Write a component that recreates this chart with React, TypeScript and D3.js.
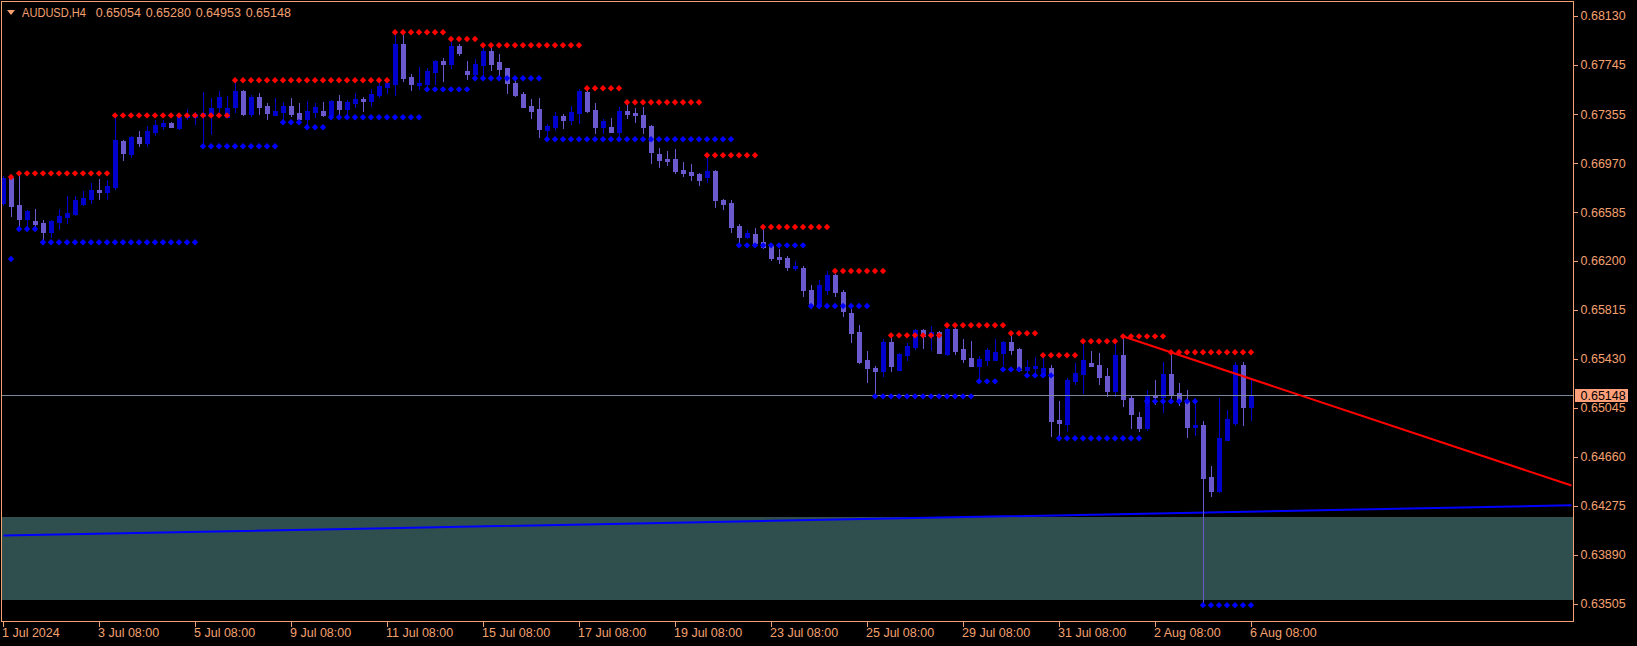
import React, { useEffect, useRef } from 'react';
import * as d3 from 'd3';

const symbol = 'AUDUSD,H4';

// H4 candles, 1 Jul 2024 .. 6 Aug 2024
const opens = [
  0.66653, 0.66852, 0.66640, 0.66530, 0.66516, 0.66498, 0.66430, 0.66508, 0.66545, 0.66571,
  0.66650, 0.66687, 0.66758, 0.66742, 0.66782, 0.67143, 0.67044, 0.67175, 0.67130, 0.67217,
  0.67264, 0.67285, 0.67248, 0.67330, 0.67335, 0.67338, 0.67354, 0.67413, 0.67335, 0.67413,
  0.67537, 0.67356, 0.67490, 0.67419, 0.67348, 0.67372, 0.67419, 0.67364, 0.67317, 0.67372,
  0.67380, 0.67348, 0.67458, 0.67395, 0.67442, 0.67474, 0.67458, 0.67505, 0.67568, 0.67592,
  0.67907, 0.67647, 0.67582, 0.67592, 0.67686, 0.67773, 0.67749, 0.67891, 0.67694, 0.67671,
  0.67741, 0.67852, 0.67765, 0.67718, 0.67600, 0.67513, 0.67419, 0.67395, 0.67230, 0.67254,
  0.67340, 0.67309, 0.67364, 0.67529, 0.67387, 0.67254, 0.67254, 0.67214, 0.67380, 0.67364,
  0.67348, 0.67262, 0.67041, 0.67002, 0.67002, 0.66915, 0.66899, 0.66884, 0.66860, 0.66907,
  0.66679, 0.66656, 0.66475, 0.66388, 0.66412, 0.66349, 0.66318, 0.66231, 0.66223, 0.66144,
  0.66144, 0.65972, 0.65846, 0.65972, 0.66090, 0.65956, 0.65790, 0.65641, 0.65421, 0.65358,
  0.65334, 0.65562, 0.65342, 0.65460, 0.65523, 0.65657, 0.65610, 0.65641, 0.65468, 0.65665,
  0.65507, 0.65437, 0.65374, 0.65421, 0.65421, 0.65476, 0.65562, 0.65507, 0.65342, 0.65358,
  0.65303, 0.65358, 0.64949, 0.64918, 0.65256, 0.65311, 0.65397, 0.65382, 0.65295, 0.65177,
  0.65460, 0.65122, 0.64973, 0.64886, 0.65138, 0.65130, 0.65311, 0.65161, 0.65091, 0.64894,
  0.64910, 0.64500, 0.64390, 0.64792, 0.64925, 0.65382, 0.65054
];

const highs = [
  0.66868, 0.66868, 0.66889, 0.66601, 0.66609, 0.66522, 0.66522, 0.66609, 0.66711, 0.66711,
  0.66752, 0.66813, 0.66844, 0.66837, 0.67332, 0.67151, 0.67185, 0.67222, 0.67262, 0.67309,
  0.67309, 0.67293, 0.67364, 0.67395, 0.67372, 0.67529, 0.67482, 0.67537, 0.67498, 0.67621,
  0.67545, 0.67505, 0.67521, 0.67442, 0.67482, 0.67450, 0.67482, 0.67442, 0.67458, 0.67442,
  0.67450, 0.67466, 0.67505, 0.67466, 0.67521, 0.67490, 0.67553, 0.67623, 0.67623, 0.67993,
  0.67993, 0.67670, 0.67726, 0.67718, 0.67781, 0.67796, 0.67938, 0.67907, 0.67773, 0.67789,
  0.67875, 0.67899, 0.67828, 0.67718, 0.67639, 0.67529, 0.67474, 0.67482, 0.67277, 0.67372,
  0.67356, 0.67419, 0.67553, 0.67553, 0.67442, 0.67317, 0.67325, 0.67411, 0.67442, 0.67403,
  0.67411, 0.67269, 0.67088, 0.67065, 0.67080, 0.66978, 0.66962, 0.66892, 0.67033, 0.66915,
  0.66687, 0.66679, 0.66491, 0.66443, 0.66459, 0.66459, 0.66341, 0.66294, 0.66239, 0.66199,
  0.66160, 0.66011, 0.66050, 0.66121, 0.66097, 0.65972, 0.65822, 0.65696, 0.65492, 0.65374,
  0.65586, 0.65617, 0.65476, 0.65555, 0.65665, 0.65665, 0.65688, 0.65649, 0.65704, 0.65673,
  0.65586, 0.65570, 0.65452, 0.65515, 0.65586, 0.65570, 0.65633, 0.65515, 0.65421, 0.65445,
  0.65445, 0.65382, 0.65098, 0.65279, 0.65397, 0.65562, 0.65492, 0.65476, 0.65358, 0.65547,
  0.65602, 0.65138, 0.65012, 0.65185, 0.65264, 0.65405, 0.65476, 0.65240, 0.65185, 0.65122,
  0.64941, 0.64587, 0.65122, 0.65028, 0.65405, 0.65405, 0.65280
];

const lows = [
  0.66640, 0.66554, 0.66443, 0.66475, 0.66470, 0.66334, 0.66388, 0.66451, 0.66501, 0.66561,
  0.66640, 0.66656, 0.66687, 0.66687, 0.66766, 0.66994, 0.67020, 0.67104, 0.67104, 0.67191,
  0.67240, 0.67254, 0.67238, 0.67316, 0.67277, 0.67104, 0.67198, 0.67364, 0.67332, 0.67374,
  0.67348, 0.67343, 0.67356, 0.67316, 0.67348, 0.67309, 0.67340, 0.67285, 0.67256, 0.67335,
  0.67340, 0.67335, 0.67335, 0.67340, 0.67411, 0.67380, 0.67419, 0.67490, 0.67521, 0.67505,
  0.67615, 0.67545, 0.67553, 0.67576, 0.67592, 0.67615, 0.67718, 0.67820, 0.67631, 0.67639,
  0.67663, 0.67702, 0.67663, 0.67521, 0.67497, 0.67411, 0.67324, 0.67175, 0.67175, 0.67230,
  0.67246, 0.67277, 0.67285, 0.67372, 0.67207, 0.67207, 0.67214, 0.67175, 0.67324, 0.67293,
  0.67207, 0.66970, 0.66939, 0.66954, 0.66892, 0.66868, 0.66837, 0.66797, 0.66821, 0.66624,
  0.66609, 0.66428, 0.66318, 0.66380, 0.66318, 0.66302, 0.66207, 0.66184, 0.66129, 0.66129,
  0.65924, 0.65830, 0.65830, 0.65940, 0.65924, 0.65767, 0.65562, 0.65397, 0.65248, 0.65130,
  0.65295, 0.65334, 0.65342, 0.65421, 0.65507, 0.65515, 0.65500, 0.65476, 0.65460, 0.65468,
  0.65405, 0.65374, 0.65248, 0.65382, 0.65421, 0.65382, 0.65468, 0.65334, 0.65303, 0.65311,
  0.65295, 0.64823, 0.64792, 0.64862, 0.65232, 0.65161, 0.65374, 0.65232, 0.65138, 0.65138,
  0.65059, 0.64886, 0.64862, 0.64870, 0.65075, 0.65012, 0.65106, 0.65067, 0.64815, 0.64831,
  0.63498, 0.64351, 0.64383, 0.64792, 0.64910, 0.64910, 0.64953
];

const closes = [
  0.66852, 0.66632, 0.66530, 0.66593, 0.66491, 0.66430, 0.66514, 0.66553, 0.66577, 0.66679,
  0.66695, 0.66758, 0.66742, 0.66789, 0.67151, 0.67052, 0.67175, 0.67130, 0.67222, 0.67267,
  0.67285, 0.67256, 0.67332, 0.67342, 0.67358, 0.67362, 0.67403, 0.67490, 0.67403, 0.67535,
  0.67356, 0.67490, 0.67411, 0.67364, 0.67380, 0.67419, 0.67356, 0.67317, 0.67380, 0.67411,
  0.67348, 0.67458, 0.67395, 0.67450, 0.67474, 0.67458, 0.67513, 0.67576, 0.67600, 0.67907,
  0.67639, 0.67592, 0.67600, 0.67694, 0.67773, 0.67749, 0.67891, 0.67836, 0.67671, 0.67749,
  0.67852, 0.67749, 0.67710, 0.67600, 0.67505, 0.67411, 0.67380, 0.67238, 0.67262, 0.67340,
  0.67309, 0.67372, 0.67537, 0.67380, 0.67254, 0.67301, 0.67214, 0.67380, 0.67356, 0.67348,
  0.67254, 0.67057, 0.66994, 0.66986, 0.66907, 0.66892, 0.66876, 0.66837, 0.66907, 0.66679,
  0.66648, 0.66467, 0.66388, 0.66420, 0.66341, 0.66310, 0.66223, 0.66215, 0.66152, 0.66160,
  0.65972, 0.65854, 0.66011, 0.66090, 0.65956, 0.65806, 0.65633, 0.65405, 0.65358, 0.65334,
  0.65562, 0.65374, 0.65468, 0.65531, 0.65657, 0.65610, 0.65641, 0.65476, 0.65665, 0.65492,
  0.65429, 0.65374, 0.65429, 0.65500, 0.65484, 0.65562, 0.65500, 0.65342, 0.65366, 0.65374,
  0.65358, 0.64941, 0.64925, 0.65264, 0.65319, 0.65421, 0.65374, 0.65287, 0.65177, 0.65460,
  0.65114, 0.64996, 0.64886, 0.65138, 0.65130, 0.65311, 0.65154, 0.65098, 0.64894, 0.64910,
  0.64493, 0.64390, 0.64807, 0.64957, 0.65382, 0.65051, 0.65148
];

// one label every 12 bars
const timeLabels = [
  '1 Jul 2024', '3 Jul 08:00', '5 Jul 08:00', '9 Jul 08:00', '11 Jul 08:00', '15 Jul 08:00',
  '17 Jul 08:00', '19 Jul 08:00', '23 Jul 08:00', '25 Jul 08:00', '29 Jul 08:00',
  '31 Jul 08:00', '2 Aug 08:00', '6 Aug 08:00'
];

const priceLabels = [
  '0.68130', '0.67745', '0.67355', '0.66970', '0.66585', '0.66200', '0.65815',
  '0.65430', '0.65045', '0.64660', '0.64275', '0.63890', '0.63505'
];

// fractal levels: [first bar, last bar, price]
const resistance: [number, number, number][] = [
  [1, 1, 0.66860], [2, 13, 0.66889], [14, 28, 0.67345], [29, 48, 0.67621],
  [49, 55, 0.67999], [56, 59, 0.67946], [60, 72, 0.67897], [73, 77, 0.67558],
  [78, 87, 0.67448], [88, 94, 0.67031], [95, 103, 0.66467], [104, 110, 0.66121],
  [111, 117, 0.65615], [118, 125, 0.65694], [126, 129, 0.65631], [130, 134, 0.65458],
  [135, 139, 0.65568], [140, 145, 0.65607], [146, 156, 0.65482]
];

const support: [number, number, number][] = [
  [1, 1, 0.66216], [2, 4, 0.66451], [5, 24, 0.66347], [25, 34, 0.67102],
  [35, 37, 0.67291], [38, 40, 0.67252], [41, 52, 0.67330], [53, 58, 0.67550],
  [59, 67, 0.67637], [68, 91, 0.67157], [92, 100, 0.66323], [101, 108, 0.65846],
  [109, 121, 0.65135], [122, 124, 0.65253], [125, 127, 0.65347], [128, 131, 0.65300],
  [132, 142, 0.64805], [143, 149, 0.65096], [150, 156, 0.63493]
];

// slow moving average (extends past the last bar)
const maBars = [0, 48, 96, 144, 196];
const maValues = [0.64040, 0.64098, 0.64156, 0.64214, 0.64278];

const trendBars = [140, 196];
const trendValues = [0.65606, 0.64434];

const zoneTop = 0.64188;
const zoneBottom = 0.63533;

const fg = '#F4A070';
const bullColor = '#0000CD';
const bearColor = '#6A5ACD';
const font = '"Liberation Sans", Arial, sans-serif';

const App: React.FC = () => {
  const svgRef = useRef<SVGSVGElement>(null);

  useEffect(() => {
    document.body.style.margin = '0';
    document.body.style.background = '#000';
    if (!svgRef.current) return;

    const svg = d3.select(svgRef.current);
    svg.selectAll('*').remove();

    const plot = { left: 1.5, top: 1.5, right: 1573.5, bottom: 621.5 };

    const x = d3.scaleLinear().domain([0, 156]).range([3.5, 3.5 + 156 * 8]);
    const y = d3.scaleLinear().domain([0.63505, 0.68130]).range([603.6, 15.6]);
    const ry = (v: number) => Math.round(y(v));

    svg.append('defs')
      .append('clipPath')
      .attr('id', 'plot-clip')
      .append('rect')
      .attr('x', plot.left + 0.5)
      .attr('y', plot.top + 0.5)
      .attr('width', plot.right - plot.left - 1)
      .attr('height', plot.bottom - plot.top - 1);

    const g = svg.append('g').attr('clip-path', 'url(#plot-clip)');

    // support zone
    g.append('rect')
      .attr('x', plot.left)
      .attr('y', ry(zoneTop))
      .attr('width', plot.right - plot.left)
      .attr('height', ry(zoneBottom) - ry(zoneTop))
      .attr('fill', '#2F4F4F');

    // moving average
    const maLine = d3.line<number>()
      .x((d, i) => x(maBars[i]))
      .y(d => y(d));
    g.append('path')
      .attr('d', maLine(maValues))
      .attr('fill', 'none')
      .attr('stroke', '#0000FF')
      .attr('stroke-width', 2);

    const candles = opens.map((o, i) => ({ i, o, h: highs[i], l: lows[i], c: closes[i] }));

    const bars = g.append('g').attr('shape-rendering', 'crispEdges');
    bars.selectAll('.wick')
      .data(candles)
      .enter()
      .append('rect')
      .attr('x', d => x(d.i) - 0.5)
      .attr('y', d => ry(d.h))
      .attr('width', 1)
      .attr('height', d => ry(d.l) - ry(d.h) + 1)
      .attr('fill', d => (d.c >= d.o ? bullColor : bearColor));

    bars.selectAll('.body')
      .data(candles)
      .enter()
      .append('rect')
      .attr('x', d => x(d.i) - 2.5)
      .attr('y', d => ry(Math.max(d.o, d.c)))
      .attr('width', 5)
      .attr('height', d => Math.max(1, ry(Math.min(d.o, d.c)) - ry(Math.max(d.o, d.c)) + 1))
      .attr('fill', d => (d.c >= d.o ? bullColor : bearColor));

    // bid line
    const bid = closes[closes.length - 1];
    g.append('line')
      .attr('x1', plot.left)
      .attr('x2', plot.right)
      .attr('y1', ry(bid) + 0.5)
      .attr('y2', ry(bid) + 0.5)
      .attr('stroke', '#778899')
      .attr('stroke-width', 1);

    // fractal dots
    const expand = (levels: [number, number, number][]) =>
      levels.flatMap(([a, b, p]) => d3.range(a, b + 1).map(i => ({ i, p })));
    const diamond = 'M0,-3.2L3.2,0L0,3.2L-3.2,0Z';

    g.selectAll('.res')
      .data(expand(resistance))
      .enter()
      .append('path')
      .attr('d', diamond)
      .attr('transform', d => `translate(${x(d.i) - 0.5},${y(d.p)})`)
      .attr('fill', '#FF0000');

    g.selectAll('.sup')
      .data(expand(support))
      .enter()
      .append('path')
      .attr('d', diamond)
      .attr('transform', d => `translate(${x(d.i) - 0.5},${y(d.p)})`)
      .attr('fill', '#0000FF');

    // trend line
    const trendLine = d3.line<number>()
      .x((d, i) => x(trendBars[i]))
      .y(d => y(d));
    g.append('path')
      .attr('d', trendLine(trendValues))
      .attr('fill', 'none')
      .attr('stroke', '#FF0000')
      .attr('stroke-width', 2);

    // frame
    svg.append('rect')
      .attr('x', plot.left)
      .attr('y', plot.top)
      .attr('width', plot.right - plot.left)
      .attr('height', plot.bottom - plot.top)
      .attr('fill', 'none')
      .attr('stroke', fg)
      .attr('stroke-width', 1);

    // price axis
    const ticks = svg.append('g').attr('shape-rendering', 'crispEdges');
    priceLabels.forEach(label => {
      const py = ry(+label) + 0.5;
      ticks.append('line')
        .attr('x1', plot.right)
        .attr('x2', plot.right + 4)
        .attr('y1', py)
        .attr('y2', py)
        .attr('stroke', fg);
    });
    svg.append('g')
      .selectAll('text')
      .data(priceLabels)
      .enter()
      .append('text')
      .attr('x', plot.right + 7)
      .attr('y', d => y(+d))
      .attr('dy', '0.36em')
      .text(d => d)
      .style('font-family', font)
      .style('font-size', '12.5px')
      .style('fill', fg);

    // bid label
    svg.append('rect')
      .attr('x', plot.right + 1.5)
      .attr('y', ry(bid) - 6)
      .attr('width', 53)
      .attr('height', 13)
      .attr('fill', '#FFA07A');
    svg.append('text')
      .attr('x', plot.right + 7)
      .attr('y', ry(bid) + 0.5)
      .attr('dy', '0.36em')
      .text(bid.toFixed(5))
      .style('font-family', font)
      .style('font-size', '12.5px')
      .style('fill', '#000');

    // time axis
    timeLabels.forEach((label, k) => {
      const tx = x(k * 12);
      ticks.append('line')
        .attr('x1', tx)
        .attr('x2', tx)
        .attr('y1', plot.bottom)
        .attr('y2', plot.bottom + 5)
        .attr('stroke', fg);
      svg.append('text')
        .attr('x', tx - 1.5)
        .attr('y', 637)
        .text(label)
        .style('font-family', font)
        .style('font-size', '12.5px')
        .style('fill', fg);
    });

    // header
    svg.append('path')
      .attr('d', 'M7,10L15,10L11,15Z')
      .attr('fill', fg);
    const last = opens.length - 1;
    const header = [symbol, opens[last].toFixed(5), highs[last].toFixed(5), lows[last].toFixed(5), closes[last].toFixed(5)];
    const headerX = [22, 95.7, 145.7, 195.7, 245.7];
    header.forEach((t, k) => {
      const txt = svg.append('text')
        .attr('x', headerX[k])
        .attr('y', 17)
        .text(t)
        .style('font-family', font)
        .style('font-size', '12.5px')
        .style('fill', fg);
      if (k === 0) txt.attr('textLength', 64).attr('lengthAdjust', 'spacingAndGlyphs');
    });
  }, []);

  return (
    <div style={{ width: 1637, height: 646, background: '#000' }}>
      <svg ref={svgRef} width={1637} height={646} style={{ display: 'block' }} />
    </div>
  );
};

export default App;
